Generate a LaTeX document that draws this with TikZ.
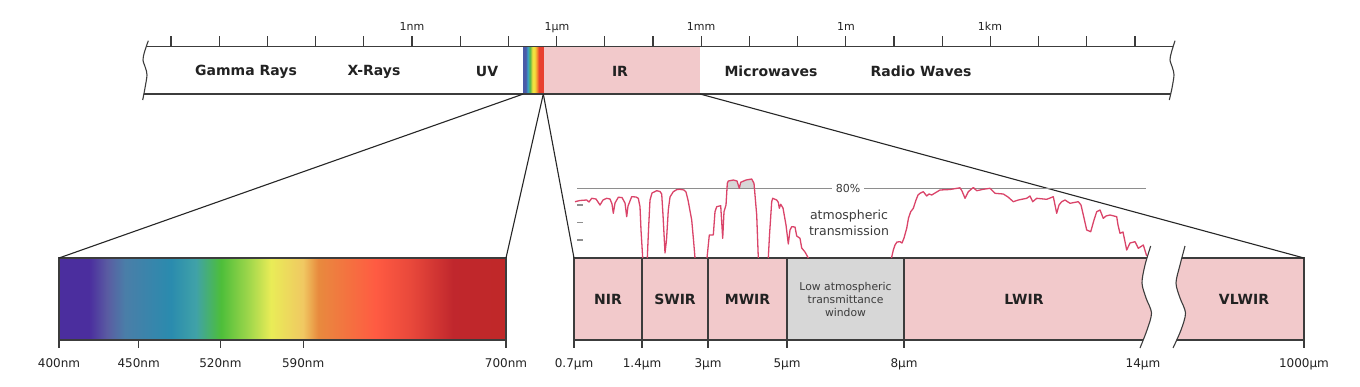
\documentclass[tikz,border=0pt]{standalone}
\usepackage{fontspec}
\setmainfont{DejaVu Sans}
\definecolor{irpink}{HTML}{F2C9CB}
\definecolor{edgec}{HTML}{3C3C3C}
\definecolor{lowgray}{HTML}{D7D7D7}
\definecolor{curvec}{HTML}{DA4469}
\definecolor{refg}{HTML}{8E8E8E}
\definecolor{txt}{HTML}{222222}
% visible spectrum colours
\definecolor{v0}{HTML}{4B2E9E}
\definecolor{v1}{HTML}{5A5CA2}
\definecolor{v2}{HTML}{4A7EA8}
\definecolor{v3}{HTML}{2A8BAE}
\definecolor{v4}{HTML}{40A2A8}
\definecolor{v5}{HTML}{4DBE3A}
\definecolor{v6}{HTML}{A4D84C}
\definecolor{v7}{HTML}{E9EC57}
\definecolor{v8}{HTML}{F0C862}
\definecolor{v9}{HTML}{E88A3E}
\definecolor{v10}{HTML}{FF5B42}
\definecolor{v11}{HTML}{E8483B}
\definecolor{v12}{HTML}{C0272D}
\definecolor{v13}{HTML}{C02828}
\pgfdeclarehorizontalshading{visspec}{100bp}{color(0bp)=(v0); color(25bp)=(v0); color(28.4bp)=(v0); color(30.4bp)=(v1); color(32.4bp)=(v2); color(37.5bp)=(v3); color(40.3bp)=(v4); color(43.1bp)=(v5); color(46.4bp)=(v6); color(48.7bp)=(v7); color(52.3bp)=(v8); color(54bp)=(v9); color(60.4bp)=(v10); color(64.4bp)=(v11); color(69.1bp)=(v12); color(75bp)=(v13); color(100bp)=(v13)}
% rainbow strip in the top bar
\definecolor{r1}{HTML}{4A5BA8}
\definecolor{r2}{HTML}{3AA0C8}
\definecolor{r3}{HTML}{5CBA4A}
\definecolor{r4}{HTML}{F0E040}
\definecolor{r5}{HTML}{F5A030}
\definecolor{r6}{HTML}{E8402F}
\pgfdeclarehorizontalshading{topbow}{100bp}{color(0bp)=(r1); color(25bp)=(r1); color(31bp)=(r1); color(36bp)=(r2); color(42bp)=(r3); color(48bp)=(r4); color(53bp)=(r4); color(58bp)=(r5); color(64bp)=(r6); color(75bp)=(r6); color(100bp)=(r6)}
\begin{document}
\begin{tikzpicture}[x=1pt,y=-1pt,
  edge/.style={draw=edgec, line width=1.2pt},
  barlbl/.style={font=\fontsize{14}{16}\selectfont\bfseries, text=txt, inner sep=0},
  scalelbl/.style={font=\fontsize{11}{13}\selectfont, text=txt, inner sep=0, anchor=base},
  ticklbl/.style={font=\fontsize{12}{14}\selectfont, text=txt, inner sep=0, anchor=base},
  zoomline/.style={draw=black!85, line width=1.1pt},
  trans/.style={draw=curvec, line width=1.3pt, line join=round},
  refline/.style={draw=refg, line width=1.2pt},
  tickmark/.style={draw=edgec, line width=1.1pt},
  irbox/.style={edge, fill=irpink, minimum height=82pt, inner sep=0, outer sep=0,
                font=\fontsize{14}{16}\selectfont\bfseries, text=txt},
]
\useasboundingbox (0,0) rectangle (1360,386);
\fill[white] (0,0) rectangle (1360,386);

% ---------------- top bar ----------------
\begin{scope}
  \clip plot[smooth] coordinates {(148.3,40.7) (144.5,52) (143,60) (145.5,68) (147,75) (145,88) (142.7,100)}
        -- plot[smooth] coordinates {(1169.3,100) (1172,88) (1174,75) (1172.5,68) (1170,60) (1171.5,52) (1175,40.7)} -- cycle;
  \node[fill=irpink, minimum width=156.7pt, minimum height=47.5pt, inner sep=0, outer sep=0] (irb) at (621.65,70.25) {};
  \node[shade, shading=topbow, minimum width=20pt, minimum height=47.5pt, inner sep=0, outer sep=0] (rb) at (533.3,70.25) {};
  \draw[edge] (130,46.5) -- (1190,46.5);
  \draw[edge] (130,94) -- (1190,94);
\end{scope}
\draw[edge, line width=1.1pt] plot[smooth] coordinates {(148.3,40.7) (144.5,52) (143,60) (145.5,68) (147,75) (145,88) (142.7,100)};
\draw[edge, line width=1.1pt] plot[smooth] coordinates {(1175,40.7) (1171.5,52) (1170,60) (1172.5,68) (1174,75) (1172,88) (1169.3,100)};
\foreach \k in {0,...,20} \draw[tickmark] ({171+48.2*\k},36) -- ({171+48.2*\k},46.5);

\node[scalelbl] (s1) at (412,30) {1nm};
\node[scalelbl] (s2) at (557,30) {1µm};
\node[scalelbl] (s3) at (701,30) {1mm};
\node[scalelbl] (s4) at (846,30) {1m};
\node[scalelbl] (s5) at (990,30) {1km};

\node[barlbl] (gamma) at (246,71.7) {Gamma Rays};
\node[barlbl] (xray) at (374,71.7) {X-Rays};
\node[barlbl] (uv) at (487,71.7) {UV};
\node[barlbl] (irl) at (620,71.7) {IR};
\node[barlbl] (micro) at (771,71.7) {Microwaves};
\node[barlbl] (radio) at (921,71.7) {Radio Waves};

% ---------------- visible spectrum ----------------
\node[edge, shade, shading=visspec, minimum width=447pt, minimum height=82pt, inner sep=0, outer sep=0] (vis) at (282.5,299) {};
\foreach \x/\t/\n in {59/400nm/a,138.6/450nm/b,220.4/520nm/c,303.2/590nm/d,506/700nm/e} {
  \draw[tickmark] (\x,340) -- (\x,348);
  \node[ticklbl] (vl\n) at (\x,367) {\t};
}

% ---------------- infrared boxes ----------------
\node[irbox, minimum width=68pt] (nir) at (608,299) {NIR};
\node[irbox, minimum width=66pt] (swir) at (675,299) {SWIR};
\node[irbox, minimum width=79pt] (mwir) at (747.5,299) {MWIR};
\node[irbox, minimum width=117pt, fill=lowgray, font=\fontsize{10.8}{13}\selectfont, align=center, text=edgec] (low) at (845.5,299) {Low atmospheric\\transmittance\\window};

\begin{scope}
  \clip (890,240) -- plot[smooth] coordinates {(1150.7,246) (1145,265) (1142,283) (1146,298) (1151.5,313) (1147,330) (1140,348)} -- (890,348) -- cycle;
  \draw[edge, fill=irpink] (904,258) rectangle (1250,340);
\end{scope}
\begin{scope}
  \clip (1320,246) -- plot[smooth] coordinates {(1185,246) (1180,265) (1176,283) (1180,298) (1185.5,313) (1181,330) (1173,348)} -- (1320,348) -- cycle;
  \draw[edge, fill=irpink] (1100,258) rectangle (1304,340);
\end{scope}
\draw[edge, line width=1.1pt] plot[smooth] coordinates {(1150.7,246) (1145,265) (1142,283) (1146,298) (1151.5,313) (1147,330) (1140,348)};
\draw[edge, line width=1.1pt] plot[smooth] coordinates {(1185,246) (1180,265) (1176,283) (1180,298) (1185.5,313) (1181,330) (1173,348)};
\coordinate (vlne) at (1304,258);
\node[barlbl] (lwir) at (1024,299) {LWIR};
\node[barlbl] (vlwir) at (1244,299) {VLWIR};

\foreach \x/\t/\n in {574/0.7µm/a,642/1.4µm/b,708/3µm/c,787/5µm/d,904/8µm/e,1304/1000µm/g} {
  \draw[tickmark] (\x,340) -- (\x,348);
  \node[ticklbl] (il\n) at (\x,367) {\t};
}
\node[ticklbl] (ilf) at (1143,367) {14µm};

% ---------------- zoom connectors ----------------
\draw[zoomline] (rb.south west) -- (vis.north west);
\draw[zoomline] (rb.south east) -- (vis.north east);
\draw[zoomline] (irb.south west) -- (nir.north west);
\draw[zoomline] (irb.south east) -- (vlne);

% ---------------- atmospheric transmission ----------------
\def\segA{(575,201.7) (580,200.5) (586.7,200) (589,202) (591.7,198.3) (596,199) (600,205) (603,200) (606.7,198.3) (610,199) (612,204) (613.3,213.3) (615,203) (618.3,197.3) (622,197.5) (625,203) (626.7,216.7) (628,206) (631.7,196.7) (636,197) (638.3,198.3) (640,206.7) (641,230) (642.7,258)}
\def\segB{(647.3,258) (648.5,230) (650,200) (652,193) (656.7,190.7) (660,191.5) (661.7,194) (663,215) (665,253) (666.5,240) (668.3,210) (670,197) (673.3,191.7) (677,189.5) (680,189.3) (684,190) (686,192) (688,200) (691.7,220) (693.5,240) (695,258)}
\def\segC{(707,258) (708.3,245) (709.3,235) (713.3,235) (715,211.7) (716.7,206.7) (720.7,205.7) (721.7,222) (722.7,238.3) (724,211.7) (726,205) (727.3,183.3) (728.3,181) (733.3,180) (737,181) (739.3,188.3) (740.7,182.3) (746,180) (751.7,179) (754,183.3) (756.7,215) (758.3,258)}
\def\segD{(768.3,258) (769.5,235) (771.7,201.7) (772.7,198.3) (776.7,200) (778.3,202.3) (779.3,208.3) (780.7,204.3) (783,208) (786,225) (788.3,244) (790,230) (791.7,226.7) (795,227) (796.7,236) (800,238.3) (801.7,248) (805,252) (808.3,258)}
\def\segE{(891.5,258) (893.3,250) (895,245) (897,242) (900,241.7) (902,243) (904,238) (906.7,228.3) (908.5,218) (910.7,211.7) (913.3,208.3) (916,200) (918,195) (920,193.3) (923.3,191.7) (926.7,196) (929,194) (931.7,195) (935,193) (940,190) (950,189.5) (960,187.8) (962,191) (965,198.3) (968.3,191.7) (973.3,187.5) (976.7,190.7) (983.3,189.3) (990,188.3) (995,193.3) (1003.3,194) (1008,197) (1013.3,201.7) (1018.3,200) (1026.7,198.3) (1030,196) (1032.7,201.7) (1036.7,198.3) (1046.7,199.3) (1053.3,196.7) (1055,205) (1056.7,213.3) (1059,205) (1061.7,201.7) (1065,200) (1070,203.3) (1078.3,201.7) (1081,205) (1084,218) (1086.7,230) (1090.7,231.7) (1094,220) (1096.7,211.7) (1100,210) (1103.3,218.3) (1106,216) (1110,215) (1116.7,216.7) (1118,225) (1120,233.3) (1123,232) (1126.7,250) (1130,243) (1135,241.7) (1138.3,248.3) (1143.3,245) (1146.7,256)}

\begin{scope}
  \clip (570,150) rectangle (1150,188.3);
  \fill[lowgray] plot coordinates \segC -- cycle;
  \fill[lowgray] plot coordinates \segE -- cycle;
\end{scope}

\draw[refline] (577,188.3) -- (1146,188.3);
\node[fill=white, font=\fontsize{11}{13}\selectfont, text=edgec, inner sep=4pt] (p80) at (848,188.3) {80\%};
\foreach \y in {205,222.7,240} \draw[draw=refg, line width=1.1pt] (577,\y) -- (583,\y);

\draw[trans] plot coordinates \segA;
\draw[trans] plot coordinates \segB;
\draw[trans] plot coordinates \segC;
\draw[trans] plot coordinates \segD;
\draw[trans] plot coordinates \segE;

\node[font=\fontsize{12.5}{16}\selectfont, text=edgec, align=center, inner sep=0] (atm) at (849,223) {atmospheric\\transmission};
\end{tikzpicture}
\end{document}
